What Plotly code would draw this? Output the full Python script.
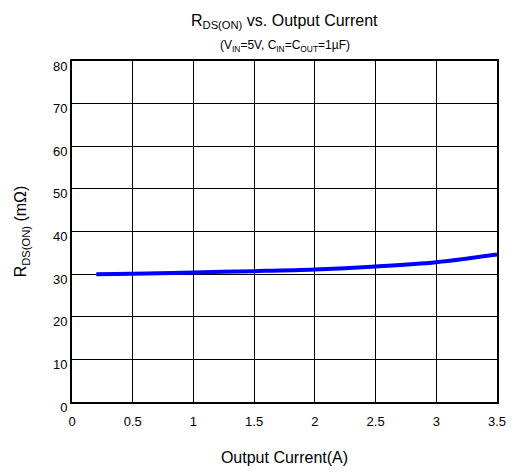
import plotly.graph_objects as go

# Output current (A) and on-resistance (mOhm)
current_a = [0.2, 0.5, 1.0, 1.5, 2.0, 2.5, 3.0, 3.5]
rdson_mohm = [30.0, 30.1, 30.4, 30.7, 31.1, 31.8, 32.8, 34.6]

x_ticks = [0, 0.5, 1, 1.5, 2, 2.5, 3, 3.5]
x_tick_text = ["0", "0.5", "1", "1.5", "2", "2.5", "3", "3.5"]
y_ticks = [0, 10, 20, 30, 40, 50, 60, 70, 80]

FONT = "Liberation Sans, Arial, sans-serif"

fig = go.Figure()
fig.add_trace(go.Scatter(
    x=current_a, y=rdson_mohm, mode="lines",
    line=dict(color="#0000ff", width=4, shape="spline"),
    hoverinfo="skip", showlegend=False,
))

fig.update_layout(
    width=518, height=476,
    margin=dict(l=72, r=12, t=61, b=68),
    paper_bgcolor="white", plot_bgcolor="white",
    font=dict(family=FONT, color="black", size=13),
    annotations=[
        dict(text="R<sub>DS(ON)</sub> vs. Output Current", x=0.5, y=1, xref="paper",
             yref="paper", xanchor="center", yanchor="bottom", yshift=28,
             showarrow=False, font=dict(size=16, family=FONT)),
        dict(text="(V<sub>IN</sub>=5V, C<sub>IN</sub>=C<sub>OUT</sub>=1µF)", x=0.5, y=1,
             xref="paper", yref="paper", xanchor="center", yanchor="bottom", yshift=5,
             showarrow=False, font=dict(size=12, family=FONT)),
    ],
)

fig.update_xaxes(
    range=[0, 3.5], tickvals=x_ticks, ticktext=x_tick_text,
    showgrid=True, gridcolor="black", gridwidth=1,
    showline=True, linecolor="black", linewidth=2, mirror=True,
    ticks="", zeroline=False, tickfont=dict(size=13), ticklabelstandoff=6,
    title=dict(text="Output Current(A)", font=dict(size=16), standoff=24),
)
fig.update_yaxes(
    range=[0, 80], tickvals=y_ticks,
    showgrid=True, gridcolor="black", gridwidth=1,
    showline=True, linecolor="black", linewidth=2, mirror=True,
    ticks="", zeroline=False, tickfont=dict(size=13), ticklabelshift=5,
    title=dict(text="R<sub>DS(ON)</sub> (mΩ)", font=dict(size=16), standoff=22),
)

fig.write_html("out.html")
